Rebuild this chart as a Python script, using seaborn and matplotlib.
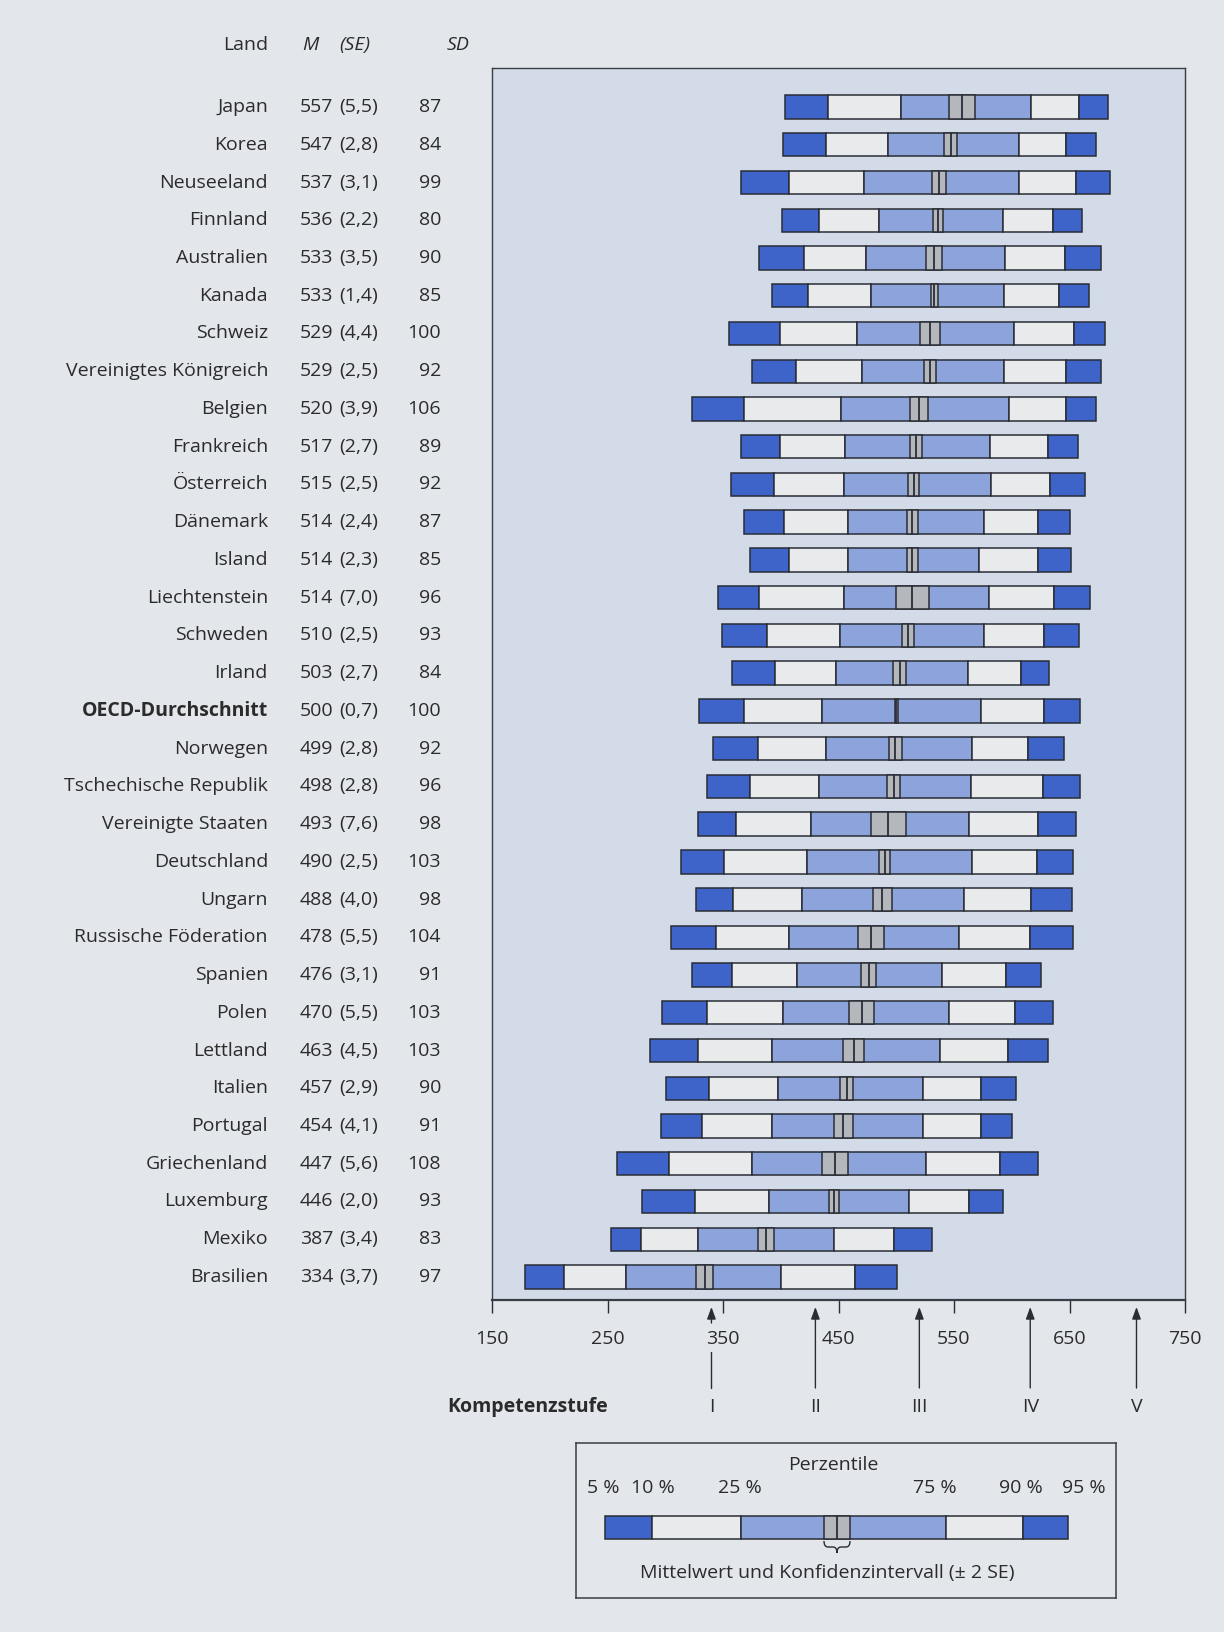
import numpy as np
import pandas as pd
import matplotlib
matplotlib.use("Agg")
import matplotlib.pyplot as plt
import seaborn as sns
from matplotlib.transforms import blended_transform_factory
from matplotlib.path import Path
from matplotlib.patches import PathPatch

# ---- data -------------------------------------------------------------
countries = ["Japan", "Korea", "Neuseeland", "Finnland", "Australien", "Kanada",
             "Schweiz", "Vereinigtes Königreich", "Belgien", "Frankreich",
             "Österreich", "Dänemark", "Island", "Liechtenstein", "Schweden",
             "Irland", "OECD-Durchschnitt", "Norwegen", "Tschechische Republik",
             "Vereinigte Staaten", "Deutschland", "Ungarn", "Russische Föderation",
             "Spanien", "Polen", "Lettland", "Italien", "Portugal", "Griechenland",
             "Luxemburg", "Mexiko", "Brasilien"]
mean = [557, 547, 537, 536, 533, 533, 529, 529, 520, 517, 515, 514, 514, 514, 510,
        503, 500, 499, 498, 493, 490, 488, 478, 476, 470, 463, 457, 454, 447, 446,
        387, 334]
se = [5.5, 2.8, 3.1, 2.2, 3.5, 1.4, 4.4, 2.5, 3.9, 2.7, 2.5, 2.4, 2.3, 7.0, 2.5,
      2.7, 0.7, 2.8, 2.8, 7.6, 2.5, 4.0, 5.5, 3.1, 5.5, 4.5, 2.9, 4.1, 5.6, 2.0,
      3.4, 3.7]
sd = [87, 84, 99, 80, 90, 85, 100, 92, 106, 89, 92, 87, 85, 96, 93, 84, 100, 92,
      96, 98, 103, 98, 104, 91, 103, 103, 90, 91, 108, 93, 83, 97]
p05 = [404, 402, 366, 401, 381, 392, 355, 375, 323, 366, 357, 368, 373, 346, 349,
       358, 329, 341, 336, 328, 314, 327, 305, 323, 297, 287, 301, 296, 258, 280,
       253, 179]
p10 = [441, 439, 407, 433, 420, 424, 399, 413, 368, 399, 394, 403, 407, 381, 388,
       395, 368, 380, 373, 361, 351, 359, 344, 358, 336, 328, 338, 332, 303, 326,
       279, 212]
p25 = [504, 493, 472, 485, 474, 478, 466, 470, 452, 456, 455, 458, 458, 455, 451,
       448, 436, 439, 433, 426, 423, 418, 407, 414, 402, 392, 398, 392, 375, 390,
       328, 266]
p75 = [617, 606, 606, 592, 594, 593, 602, 593, 598, 581, 582, 576, 572, 580, 576,
       562, 573, 566, 565, 563, 566, 559, 554, 540, 546, 538, 523, 523, 526, 511,
       446, 400]
p90 = [658, 647, 656, 636, 646, 641, 654, 647, 647, 631, 633, 623, 623, 637, 628,
       608, 628, 614, 627, 623, 622, 617, 616, 595, 603, 597, 573, 573, 590, 563,
       498, 464]
p95 = [683, 673, 685, 661, 677, 667, 681, 677, 673, 657, 663, 650, 651, 668, 658,
       632, 659, 645, 659, 656, 653, 652, 653, 625, 636, 631, 604, 600, 623, 592,
       531, 501]

x_ticks = [150, 250, 350, 450, 550, 650, 750]
level_names = ["I", "II", "III", "IV", "V"]
level_cuts = [340, 430, 520, 616, 708]
legend_labels = ["5 %", "10 %", "25 %", "75 %", "90 %", "95 %"]

# ---- style ------------------------------------------------------------
sns.set_theme(style="white")
plt.rcParams["font.family"] = ["Open Sans", "DejaVu Sans"]

BG = "#e3e6eb"
PANEL = "#d4dbe8"
DARK = "#3f64c9"
MID = "#8ca3dc"
LIGHT = "#e9eaec"
GREY = "#b4b7bc"
EDGE = "#2a2d35"
INK = "#2b2b2b"
FS = 14

df = pd.DataFrame({"land": countries, "M": mean, "SE": se, "SD": sd,
                   "p05": p05, "p10": p10, "p25": p25, "p75": p75,
                   "p90": p90, "p95": p95})
df["row"] = np.arange(len(df))

W, H = 1224, 1632
fig = plt.figure(figsize=(W / 100, H / 100), dpi=100, facecolor=BG)


def fx(px):
    return px / W


def fy(py):
    return 1 - py / H


ax_left, ax_right, ax_top, ax_bottom = 492, 1185, 68, 1300
ax = fig.add_axes([fx(ax_left), fy(ax_bottom), (ax_right - ax_left) / W,
                   (ax_bottom - ax_top) / H])
ax.set_facecolor(PANEL)

bar_h = 0.62
segments = [("p05", "p10", DARK), ("p10", "p25", LIGHT), ("p25", "p75", MID),
            ("p75", "p90", LIGHT), ("p90", "p95", DARK)]
for lo, hi, col in segments:
    ax.barh(df["row"], df[hi] - df[lo], left=df[lo], height=bar_h,
            color=col, edgecolor=EDGE, linewidth=1.1, zorder=2)

# confidence interval (mean +/- 2 SE) with the mean line
ax.barh(df["row"], 4 * df["SE"], left=df["M"] - 2 * df["SE"], height=bar_h,
        color=GREY, edgecolor=EDGE, linewidth=1.1, zorder=3)
ax.vlines(df["M"], df["row"] - bar_h / 2, df["row"] + bar_h / 2,
          color=EDGE, linewidth=1.3, zorder=4)

ax.set_xlim(150, 750)
row_px = 37.7
ax.set_ylim(31 + (ax_bottom - 1277) / row_px, -(107 - ax_top) / row_px)
ax.set_yticks([])
ax.set_xticks(x_ticks)
ax.set_xticklabels([str(t) for t in x_ticks])
ax.tick_params(axis="x", direction="out", length=9.5, width=1.0, pad=12,
               labelsize=FS, colors=EDGE, labelcolor=INK, bottom=True)
for side, sp in ax.spines.items():
    sp.set_visible(True)
    sp.set_color("#3a3d44")
    sp.set_linewidth(1.0)
ax.spines["bottom"].set_linewidth(1.6)

# ---- table of values left of the chart --------------------------------
tr = blended_transform_factory(fig.transFigure, ax.transData)
for _, r in df.iterrows():
    bold = r["land"] == "OECD-Durchschnitt"
    ax.text(fx(268), r["row"], r["land"], transform=tr, ha="right", va="center",
            fontsize=FS, color=INK, fontweight="bold" if bold else "normal")
    ax.text(fx(333), r["row"], f"{r['M']}", transform=tr, ha="right",
            va="center", fontsize=FS, color=INK)
    ax.text(fx(339), r["row"], "(" + f"{r['SE']:.1f}".replace(".", ",") + ")",
            transform=tr, ha="left", va="center", fontsize=FS, color=INK)
    ax.text(fx(441), r["row"], f"{r['SD']}", transform=tr, ha="right",
            va="center", fontsize=FS, color=INK)

fig.text(fx(268), fy(45), "Land", ha="right", va="center", fontsize=FS, color=INK)
fig.text(fx(310), fy(45), "M", ha="center", va="center", fontsize=FS,
         color=INK, style="italic")
fig.text(fx(355), fy(45), "(SE)", ha="center", va="center", fontsize=FS,
         color=INK, style="italic")
fig.text(fx(458), fy(45), "SD", ha="center", va="center", fontsize=FS,
         color=INK, style="italic")

# ---- competence levels below the axis ---------------------------------
trl = blended_transform_factory(ax.transData, fig.transFigure)
tip, tail = fy(1307), fy(1388)
for i, (name, cut) in enumerate(zip(level_names, level_cuts)):
    start = fy(1323) if i == 0 else tail
    ax.annotate("", xy=(cut, tip), xytext=(cut, start), xycoords=trl,
                textcoords=trl, annotation_clip=False,
                arrowprops=dict(arrowstyle="-|>,head_length=0.6,head_width=0.22",
                                color=EDGE, lw=1.0, shrinkA=0, shrinkB=0))
    if i == 0:
        ax.plot([cut, cut], [fy(1352), tail], transform=trl, color=EDGE,
                lw=1.0, clip_on=False)
    ax.text(cut, fy(1407), name, transform=trl, ha="center", va="center",
            fontsize=FS, color=INK)
fig.text(fx(447), fy(1407), "Kompetenzstufe", ha="left", va="center",
         fontsize=FS, fontweight="bold", color=INK)

# ---- legend box ---------------------------------------------------------
lx0, lx1, ly0, ly1 = 576, 1116, 1443, 1598
lg = fig.add_axes([fx(lx0), fy(ly1), (lx1 - lx0) / W, (ly1 - ly0) / H])
lg.set_facecolor(BG)
lg.set_xlim(lx0, lx1)
lg.set_ylim(ly1, ly0)
lg.set_xticks([])
lg.set_yticks([])
for sp in lg.spines.values():
    sp.set_visible(True)
    sp.set_color("#3a3d44")
    sp.set_linewidth(1.1)

sample = [605, 652, 741, 946, 1023, 1068]
sample_ci = (824, 850)
sample_cols = [DARK, LIGHT, MID, LIGHT, DARK]
for a, b, c in zip(sample[:-1], sample[1:], sample_cols):
    lg.barh(1528, b - a, left=a, height=23, color=c, edgecolor=EDGE,
            linewidth=1.1, zorder=2)
lg.barh(1528, sample_ci[1] - sample_ci[0], left=sample_ci[0], height=23,
        color=GREY, edgecolor=EDGE, linewidth=1.1, zorder=3)
xm = sum(sample_ci) / 2
lg.vlines(xm, 1528 - 11.5, 1528 + 11.5, color=EDGE, lw=1.3, zorder=4)

# curly brace under the interval
b0, b1, yt, ymid, ytip = sample_ci[0], sample_ci[1], 1541, 1547, 1553
verts = [(b0, yt), (b0, ymid), (b0 + 4, ymid), (xm - 4, ymid), (xm, ymid),
         (xm, ytip), (xm, ymid), (xm + 4, ymid), (b1 - 4, ymid), (b1, ymid),
         (b1, yt)]
codes = [Path.MOVETO, Path.CURVE3, Path.CURVE3, Path.LINETO, Path.CURVE3,
         Path.CURVE3, Path.CURVE3, Path.CURVE3, Path.LINETO, Path.CURVE3,
         Path.CURVE3]
lg.add_patch(PathPatch(Path(verts, codes), fill=False, edgecolor=EDGE, lw=1.0))

label_x = [603, 653, 740, 935, 1021, 1084]
for lab, x in zip(legend_labels, label_x):
    lg.text(x, 1488, lab, ha="center", va="center", fontsize=FS, color=INK)
lg.text(833, 1465, "Perzentile", ha="center", va="center", fontsize=FS, color=INK)
lg.text(827, 1573, "Mittelwert und Konfidenzintervall (± 2 SE)", ha="center",
        va="center", fontsize=FS, color=INK)

fig.savefig("out.png", dpi=100, facecolor=BG)
